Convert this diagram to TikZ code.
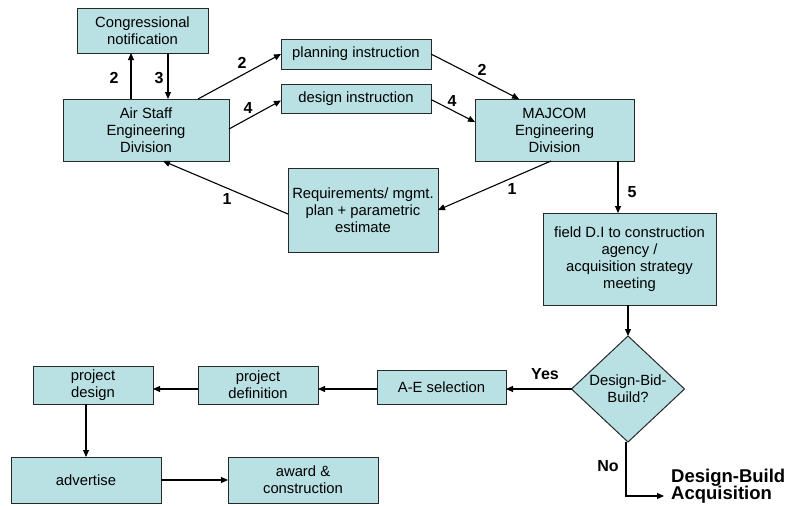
\documentclass[tikz,border=0pt]{standalone}
\usepackage{fontspec}
\setmainfont{Liberation Sans}
\usetikzlibrary{arrows.meta,shapes.geometric}

\definecolor{boxfill}{RGB}{185,224,227}
\definecolor{boxline}{RGB}{40,40,40}

\tikzset{
  box/.style={draw=boxline, line width=1pt, fill=boxfill, rectangle,
    inner sep=0pt, outer sep=0pt, align=center,
    font=\fontsize{14.8}{17}\selectfont},
  decision/.style={draw=boxline, line width=1pt, fill=boxfill, diamond,
    inner sep=0pt, outer sep=0pt, align=center, aspect=1.07,
    font=\fontsize{14.8}{17}\selectfont},
  arr/.style={line width=1.1pt, -{Triangle[length=7pt,width=6pt]}},
  num/.style={font=\fontsize{16}{18}\selectfont\bfseries, inner sep=0pt},
  big/.style={font=\fontsize{18.5}{17.5}\selectfont\bfseries, inner sep=0pt, align=left}
}

\begin{document}
\begin{tikzpicture}[x=1pt,y=-1pt]
\useasboundingbox (0,0) rectangle (788,506);

% upper approval loop
\node[box, minimum width=131pt, minimum height=45pt] (cong) at (142.5,30.5) {Congressional\\notification};
\node[box, minimum width=166pt, minimum height=62pt] (air) at (146,130) {Air Staff\\Engineering\\Division};
\node[box, minimum width=150pt, minimum height=30pt] (plan) at (356,54) {planning instruction};
\node[box, minimum width=150pt, minimum height=29pt] (des) at (356,98.5) {design instruction};
\node[box, minimum width=159pt, minimum height=62pt] (maj) at (554.5,130) {MAJCOM\\Engineering\\Division};
\node[box, minimum width=150pt, minimum height=84pt] (req) at (363,210) {Requirements/ mgmt.\\plan + parametric\\estimate};
\node[box, minimum width=173pt, minimum height=92pt] (field) at (629.5,259) {field D.I to construction\\agency /\\acquisition strategy\\meeting};

% acquisition path
\node[decision, minimum width=113pt, minimum height=106pt] (dbb) at (628,389) {Design-Bid-\\Build?};
\node[box, minimum width=129pt, minimum height=34pt] (ae) at (441.5,387) {A-E selection};
\node[box, minimum width=120pt, minimum height=38pt] (pdef) at (258,385) {project\\definition};
\node[box, minimum width=120pt, minimum height=38pt] (pdes) at (93,385) {project\\design};
\node[box, minimum width=150pt, minimum height=46pt] (adv) at (86,480) {advertise};
\node[box, minimum width=150pt, minimum height=46pt] (award) at (303,480) {award \&\\construction};

\node[big, anchor=west] (dbacq) at (671,486) {Design-Build\\Acquisition};
\coordinate (dbend) at (664,496);

% connectors
\draw[arr] ([xshift=68pt]air.north west) -- ([xshift=54pt]cong.south west);
\draw[arr] ([xshift=91pt]cong.south west) -- ([xshift=105pt]air.north west);
\draw[arr] ([xshift=135pt]air.north west) -- (plan.west);
\draw[arr] ([yshift=1pt]air.east) -- ([yshift=-2pt]des.west);
\draw[arr] (plan.east) -- ([xshift=44pt]maj.north west);
\draw[arr] ([yshift=-1pt]des.east) -- ([yshift=8pt]maj.west);
\draw[arr] ([xshift=76pt]maj.south west) -- (req.east);
\draw[arr] ([yshift=-4pt]req.west) -- ([xshift=100pt]air.south west);
\draw[arr] ([xshift=143pt]maj.south west) -- ([xshift=75pt]field.north west);
\draw[arr] (dbb.north |- field.south) -- (dbb.north);
\draw[arr] (dbb.west) -- ([yshift=-2pt]ae.east);
\draw[arr] ([yshift=-2pt]ae.west) -- ([yshift=-4pt]pdef.east);
\draw[arr] ([yshift=-4pt]pdef.west) -- ([yshift=-4pt]pdes.east);
\draw[arr] ([xshift=-7pt]pdes.south) -- (adv.north);
\draw[arr] (adv.east) -- (award.west);
\draw[arr] ([xshift=-2pt]dbb.south) |- (dbend);

% labels
\node[num] (l1) at (114,78) {2};
\node[num] (l2) at (159,78) {3};
\node[num] (l3) at (242,63) {2};
\node[num] (l4) at (248,108) {4};
\node[num] (l5) at (482,70) {2};
\node[num] (l6) at (452,101) {4};
\node[num] (l7) at (512,189) {1};
\node[num] (l8) at (227,199) {1};
\node[num] (l9) at (632,192) {5};
\node[num] (yes) at (545,374) {Yes};
\node[num] (no) at (608,466) {No};
\end{tikzpicture}
\end{document}
